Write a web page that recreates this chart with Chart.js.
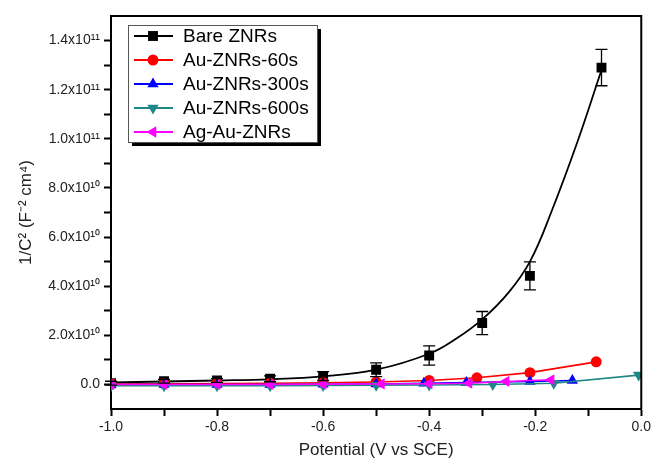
<!DOCTYPE html>
<html>
<head>
<meta charset="utf-8">
<script src="https://cdn.jsdelivr.net/npm/chart.js@4.4.0/dist/chart.umd.min.js"></script>
<style>
  html, body { margin: 0; padding: 0; background: #fff; }
  #wrap { width: 654px; height: 462px; }
</style>
</head>
<body>
<div id="wrap"><canvas id="chart" width="654" height="462"></canvas></div>
<script>
// Datos (potencial en V vs SCE, 1/C^2 en F^-2 cm^4)
const seriesNames = ['Bare ZNRs', 'Au-ZNRs-60s', 'Au-ZNRs-300s', 'Au-ZNRs-600s', 'Ag-Au-ZNRs'];

const bareX   = [-1.0, -0.9, -0.8, -0.7, -0.6, -0.5, -0.4, -0.3, -0.21, -0.075];
const bareY   = [0.05e10, 0.13e10, 0.16e10, 0.23e10, 0.34e10, 0.6e10, 1.18e10, 2.5e10, 4.42e10, 12.9e10];
const bareErr = [0.08e10, 0.08e10, 0.08e10, 0.12e10, 0.18e10, 0.28e10, 0.39e10, 0.47e10, 0.57e10, 0.74e10];

// curva de ajuste (trazo negro continuo)
const fitX = [-1.0, -0.9, -0.8, -0.7, -0.6, -0.5, -0.4, -0.35, -0.3, -0.25, -0.21, -0.17, -0.12, -0.075];
const fitY = [0.08e10, 0.12e10, 0.16e10, 0.21e10, 0.33e10, 0.6e10, 1.25e10, 1.85e10, 2.65e10, 3.75e10, 5.0e10, 7.0e10, 9.9e10, 1.28e11];

const au60X  = [-1.0, -0.9, -0.8, -0.7, -0.6, -0.5, -0.4, -0.31, -0.21, -0.085];
const au60Y  = [0.02e10, 0.03e10, 0.04e10, 0.05e10, 0.07e10, 0.1e10, 0.16e10, 0.27e10, 0.48e10, 0.92e10];

const au300X = [-1.0, -0.9, -0.8, -0.7, -0.6, -0.5, -0.41, -0.33, -0.21, -0.13];
const au300Y = [0.0, 0.0, 0.0, 0.0, 0.01e10, 0.02e10, 0.05e10, 0.08e10, 0.12e10, 0.16e10];

const au600X = [-1.0, -0.9, -0.8, -0.7, -0.6, -0.5, -0.4, -0.28, -0.165, -0.005];
const au600Y = [-0.05e10, -0.05e10, -0.05e10, -0.05e10, -0.04e10, -0.03e10, -0.02e10, 0.0, 0.05e10, 0.38e10];

const agAuX  = [-1.0, -0.9, -0.8, -0.7, -0.6, -0.49, -0.4, -0.325, -0.255, -0.17];
const agAuY  = [0.0, 0.0, 0.0, 0.0, 0.01e10, 0.02e10, 0.03e10, 0.05e10, 0.12e10, 0.19e10];

const seriesColors = ['#000000', '#ff0000', '#0000ff', '#1f8787', '#ff00ff'];
const seriesStyles = [
    { pointStyle: 'rect', radius: 7, rotation: 0 },
    { pointStyle: 'circle', radius: 5.5, rotation: 0 },
    { pointStyle: 'triangle', radius: 6.5, rotation: 0 },
    { pointStyle: 'triangle', radius: 6.5, rotation: 180 },
    { pointStyle: 'triangle', radius: 6.5, rotation: 270 }
];

const FONT = '"Liberation Sans", Arial, sans-serif';

function toPoints(xs, ys) {
    return xs.map((x, i) => ({ x: x, y: ys[i] }));
}

// Etiquetas del eje Y con notación científica
function formatY(v) {
    if (Math.abs(v) < 1) return '0.0';
    if (v >= 1e11) return (v / 1e11).toFixed(1) + 'x10\u00B9\u00B9';
    return (v / 1e10).toFixed(1) + 'x10\u00B9\u2070';
}

function markerDataset(label, xs, ys, idx, order, showLine) {
    const st = seriesStyles[idx];
    return {
        label: label,
        data: toPoints(xs, ys),
        borderColor: seriesColors[idx],
        backgroundColor: seriesColors[idx],
        borderWidth: 1.6,
        showLine: showLine,
        tension: 0,
        pointStyle: st.pointStyle,
        pointRadius: st.radius,
        pointRotation: st.rotation,
        pointBorderWidth: 0,
        pointBackgroundColor: seriesColors[idx],
        order: order
    };
}

// Barras de error, marco y leyenda
const extrasPlugin = {
    id: 'extras',
    afterDatasetsDraw(chart) {
        const ctx = chart.ctx;
        const xs = chart.scales.x, ys = chart.scales.y;
        ctx.save();
        ctx.strokeStyle = '#000';
        ctx.lineWidth = 1.3;
        bareX.forEach((x, i) => {
            const px = xs.getPixelForValue(x);
            const top = ys.getPixelForValue(bareY[i] + bareErr[i]);
            const bot = ys.getPixelForValue(bareY[i] - bareErr[i]);
            ctx.beginPath();
            ctx.moveTo(px, top); ctx.lineTo(px, bot);
            ctx.moveTo(px - 6, top); ctx.lineTo(px + 6, top);
            ctx.moveTo(px - 6, bot); ctx.lineTo(px + 6, bot);
            ctx.stroke();
        });
        ctx.restore();
    },
    afterDraw(chart) {
        const ctx = chart.ctx;
        const a = chart.chartArea;
        ctx.save();
        // marco superior y derecho
        ctx.strokeStyle = '#000';
        ctx.lineWidth = 2;
        ctx.beginPath();
        ctx.moveTo(a.left, a.top); ctx.lineTo(a.right, a.top); ctx.lineTo(a.right, a.bottom);
        ctx.stroke();

        // leyenda
        const lx = 128, ly = 25, lw = 189, lh = 117;
        ctx.fillStyle = '#000';
        ctx.fillRect(lx + 4, ly + 4, lw, lh);
        ctx.fillStyle = '#fff';
        ctx.fillRect(lx, ly, lw, lh);
        ctx.strokeStyle = '#555';
        ctx.lineWidth = 1;
        ctx.strokeRect(lx + 0.5, ly + 0.5, lw, lh);

        ctx.font = '19px ' + FONT;
        ctx.textBaseline = 'middle';
        ctx.textAlign = 'left';
        seriesNames.forEach((name, i) => {
            const y = 36 + i * 24;
            const c = seriesColors[i];
            ctx.strokeStyle = c;
            ctx.lineWidth = 2;
            ctx.beginPath();
            ctx.moveTo(134, y); ctx.lineTo(173, y);
            ctx.stroke();
            ctx.fillStyle = c;
            const st = seriesStyles[i];
            Chart.helpers.drawPoint(ctx, {
                pointStyle: st.pointStyle, radius: st.radius, rotation: st.rotation, borderWidth: 0
            }, 153, y);
            ctx.fillStyle = '#000';
            ctx.fillText(name, 183, y + 1);
        });
        ctx.restore();
    }
};

const datasets = [
    {
        label: 'fit',
        data: toPoints(fitX, fitY),
        borderColor: '#000',
        borderWidth: 1.8,
        showLine: true,
        tension: 0.4,
        pointRadius: 0,
        order: 6
    },
    markerDataset(seriesNames[0], bareX, bareY, 0, 5, false),
    markerDataset(seriesNames[1], au60X, au60Y, 1, 4, true),
    markerDataset(seriesNames[2], au300X, au300Y, 2, 3, true),
    markerDataset(seriesNames[3], au600X, au600Y, 3, 2, true),
    markerDataset(seriesNames[4], agAuX, agAuY, 4, 1, true)
];

new Chart(document.getElementById('chart').getContext('2d'), {
    type: 'scatter',
    data: { datasets: datasets },
    options: {
        responsive: false,
        animation: false,
        layout: { padding: { left: 0, top: 16, right: 11, bottom: 0 } },
        plugins: {
            legend: { display: false },
            tooltip: { enabled: false }
        },
        scales: {
            x: {
                type: 'linear',
                min: -1.0,
                max: 0.0,
                afterFit: (scale) => { scale.height = 53; },
                afterBuildTicks: (scale) => {
                    const t = [];
                    for (let i = 0; i <= 10; i++) t.push({ value: -1 + i * 0.1 });
                    scale.ticks = t;
                },
                ticks: {
                    autoSkip: false,
                    maxRotation: 0,
                    padding: 3,
                    color: '#222',
                    font: { family: FONT, size: 14 },
                    callback: (v) => {
                        const k = Math.round(v * 10);
                        return k % 2 === 0 ? (k / 10).toFixed(1) : '';
                    }
                },
                grid: {
                    drawOnChartArea: false,
                    drawTicks: true,
                    tickLength: 7,
                    tickColor: '#000',
                    tickWidth: 2
                },
                border: { display: true, color: '#000', width: 2 },
                title: {
                    display: true,
                    text: 'Potential (V vs SCE)',
                    color: '#222',
                    font: { family: FONT, size: 17 },
                    padding: { top: 0, bottom: 1 }
                }
            },
            y: {
                type: 'linear',
                min: -1e10,
                max: 1.5e11,
                afterFit: (scale) => { scale.width = 111; },
                afterBuildTicks: (scale) => {
                    const t = [];
                    for (let i = 0; i <= 14; i++) t.push({ value: i * 1e10 });
                    scale.ticks = t;
                },
                ticks: {
                    autoSkip: false,
                    padding: 4,
                    color: '#222',
                    font: { family: FONT, size: 14 },
                    callback: (v) => {
                        const k = Math.round(v / 1e10);
                        return k % 2 === 0 ? formatY(v) : '';
                    }
                },
                grid: {
                    drawOnChartArea: false,
                    drawTicks: true,
                    tickLength: 7,
                    tickColor: '#000',
                    tickWidth: 2
                },
                border: { display: true, color: '#000', width: 2 },
                title: {
                    display: true,
                    text: '1/C\u00B2 (F\u207B\u00B2 cm\u2074)',
                    color: '#222',
                    font: { family: FONT, size: 17 },
                    padding: { top: 16, bottom: 0 }
                }
            }
        }
    },
    plugins: [extrasPlugin]
});
</script>
</body>
</html>
